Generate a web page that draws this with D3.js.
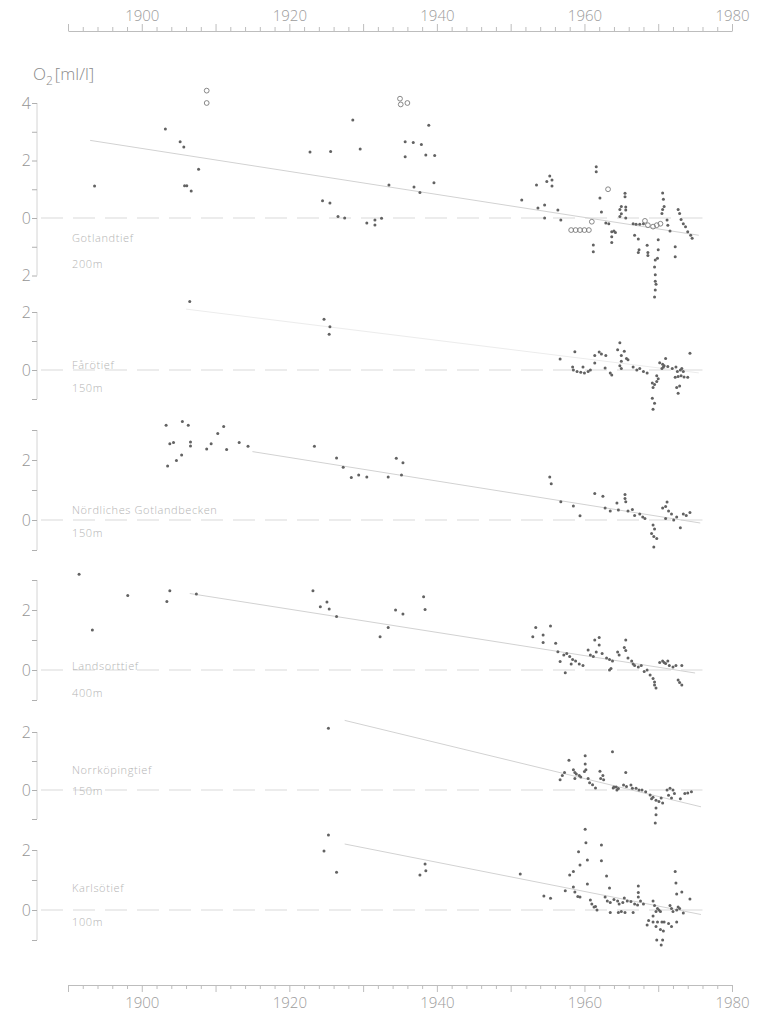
<!DOCTYPE html>
<html><head><meta charset="utf-8">
<script src="https://cdn.jsdelivr.net/npm/d3@7"></script>
<style>
html,body{margin:0;padding:0;background:#fff;}
svg{display:block;font-family:"Open Sans","DejaVu Sans",sans-serif;}
</style></head><body>
<svg id="c" width="757" height="1018"></svg>
<script>
// ---------- data ----------
const yearTicksLabelled = [1900, 1920, 1940, 1960, 1980];
const panelNames = ["Gotlandtief", "Fårötief", "Nördliches  Gotlandbecken", "Landsorttief", "Norrköpingtief", "Karlsötief"];
const panelDepths = ["200m", "150m", "150m", "400m", "150m", "100m"];
const yTicks1 = [-2, -1, 0, 1, 2, 3, 4];
const yLabels1 = {"4": "4", "2": "2", "0": "0", "-2": "2"};
const yTicks2 = [-1, 0, 1, 2];
const yTicks3 = [-1, 0, 1, 2, 3];
const yTicks4 = [-1, 0, 1, 2, 3];
const yTicks5 = [-1, 0, 1, 2];
const yTicks6 = [-1, 0, 1, 2];
const yLabelsStd = {"2": "2", "0": "0"};

// Gotlandtief 200m
const gotlandDots = [
 [1893.6,1.11],[1903.2,3.1],[1905.2,2.65],[1905.7,2.47],[1907.7,1.7],[1905.8,1.12],[1906.1,1.12],[1906.7,0.94],
 [1922.8,2.3],[1925.6,2.31],[1928.6,3.41],[1929.6,2.4],[1924.5,0.6],[1925.5,0.52],[1926.6,0.05],[1927.5,0.0],
 [1930.5,-0.17],[1931.6,-0.07],[1931.6,-0.24],[1932.5,-0.01],
 [1938.9,3.23],[1935.7,2.65],[1936.8,2.63],[1937.9,2.56],[1935.7,2.13],[1938.5,2.19],[1939.7,2.17],
 [1933.5,1.15],[1936.9,1.08],[1937.7,0.89],[1939.6,1.23],
 [1951.5,0.63],[1953.5,1.15],[1954.9,1.27],[1955.3,1.46],[1955.6,1.32],[1955.6,1.11],[1953.7,0.35],[1954.6,0.45],
 [1954.6,0.0],[1956.4,0.28],[1956.8,-0.07],
 [1961.6,1.78],[1961.6,1.61],[1962.1,0.7],[1962.3,0.21],[1961.2,-0.94],[1961.2,-1.17],
 [1962.9,-0.17],[1963.3,-0.2],[1963.7,-0.48],[1963.7,-0.65],[1963.7,-0.85],[1964.0,-0.45],[1964.2,-0.5],
 [1965.5,0.86],[1965.5,0.74],[1965.0,0.4],[1964.8,0.3],[1965.0,0.15],[1965.6,0.38],[1965.6,0.28],[1964.8,0.05],[1965.6,0.0],
 [1966.6,-0.2],[1967.0,-0.22],[1967.5,-0.22],[1968.0,-0.2],[1966.8,-0.6],
 [1967.3,-0.73],[1967.4,-1.1],[1967.3,-1.2],[1968.5,-0.95],[1968.6,-1.2],[1968.6,-1.3],[1970.0,-0.76],
 [1970.6,0.87],[1970.7,0.65],[1970.8,0.4],[1970.6,0.3],[1970.5,0.16],[1971.2,-0.07],[1971.3,-0.25],[1971.6,-0.45],
 [1969.6,-1.46],[1969.5,-1.7],[1969.6,-1.97],[1969.6,-2.2],[1969.7,-2.3],[1969.6,-2.5],[1969.5,-2.75],
 [1970.0,-1.1],[1969.9,-1.4],[1972.3,-1.0],[1972.3,-1.35],
 [1972.7,0.3],[1972.9,0.16],[1973.1,-0.05],[1973.4,-0.2],[1973.7,-0.3],[1974.0,-0.48],[1974.4,-0.6],[1974.6,-0.7]
];
const gotlandCircles = [
 [1908.8,4.43],[1908.8,4.0],[1935.0,4.15],[1935.1,3.95],[1936.0,4.0],
 [1958.2,-0.42],[1958.8,-0.42],[1959.4,-0.42],[1960.0,-0.42],[1960.6,-0.42],
 [1963.2,1.0],[1961.0,-0.13],
 [1968.2,-0.1],[1968.6,-0.25],[1969.3,-0.3],[1969.8,-0.25],[1970.3,-0.2]
];
const gotlandTrend = [[1893.0,2.7],[1975.5,-0.6]];

// Fårötief 150m
const faroDots = [
 [1906.5,2.36],[1924.7,1.75],[1925.5,1.49],[1925.4,1.23],
 [1956.7,0.38],[1958.7,0.63],[1958.4,0.1],[1958.5,0.0],[1959.0,-0.05],[1959.5,-0.08],[1960.0,-0.1],[1960.5,-0.05],[1960.8,0.0],[1959.8,0.1],
 [1961.4,0.5],[1962.0,0.62],[1962.3,0.55],[1962.9,0.5],[1961.4,0.24],[1962.8,0.07],[1963.7,-0.17],[1963.5,-0.1],
 [1964.8,0.94],[1964.5,0.7],[1965.4,0.65],[1965.0,0.5],[1965.7,0.4],[1965.9,0.35],[1965.0,0.3],[1964.8,0.15],[1965.0,0.05],
 [1966.6,0.1],[1967.1,0.0],[1967.5,0.05],[1968.0,-0.05],[1968.5,-0.1],
 [1969.2,-0.45],[1969.5,-0.5],[1969.3,-0.6],[1969.2,-0.97],[1969.5,-1.15],[1969.3,-1.35],
 [1970.2,0.25],[1970.6,0.2],[1970.8,0.15],[1971.0,0.4],[1970.5,0.05],[1970.7,0.1],[1971.3,0.12],
 [1969.8,-0.2],[1970.0,-0.3],[1969.8,-0.4],
 [1971.9,0.05],[1972.4,0.1],[1972.6,-0.05],[1973.0,0.0],[1973.2,0.05],[1973.4,-0.05],
 [1972.3,-0.25],[1972.7,-0.22],[1973.1,-0.2],[1973.5,-0.24],[1974.0,-0.25],
 [1972.5,-0.6],[1972.9,-0.55],[1972.7,-0.8],[1974.3,0.58]
];
const faroTrend = [[1906.0,2.1],[1975.5,-0.1]];

// Nördliches Gotlandbecken 150m
const nordDots = [
 [1903.3,3.16],[1905.5,3.28],[1906.3,3.16],[1903.8,2.54],[1904.3,2.58],[1906.6,2.6],[1906.6,2.47],
 [1908.8,2.37],[1909.4,2.54],[1910.3,2.88],[1911.1,3.12],[1911.5,2.35],[1913.2,2.58],[1914.4,2.46],
 [1903.5,1.8],[1904.7,1.98],[1905.4,2.17],
 [1923.4,2.46],[1926.4,2.07],[1927.3,1.76],[1928.4,1.42],[1929.4,1.5],[1930.5,1.43],
 [1934.5,2.06],[1935.4,1.91],[1933.4,1.43],[1935.2,1.5],
 [1955.3,1.43],[1955.5,1.21],[1956.8,0.61],[1958.5,0.47],[1959.4,0.14],[1961.4,0.88],[1962.5,0.79],
 [1965.5,0.85],[1965.5,0.72],[1965.6,0.61],[1964.4,0.57],
 [1962.8,0.4],[1963.5,0.3],[1964.6,0.33],[1965.9,0.3],[1966.5,0.35],
 [1966.8,0.15],[1967.5,0.2],[1967.9,0.1],[1968.2,0.05],
 [1969.3,-0.17],[1969.1,-0.45],[1969.5,-0.3],[1969.4,-0.55],[1969.8,-0.62],[1969.4,-0.9],
 [1970.6,0.4],[1971.0,0.45],[1971.2,0.6],[1971.4,0.3],[1971.8,0.2],[1972.5,0.1],[1973.0,-0.26],
 [1973.4,0.2],[1973.8,0.15],[1974.3,0.25],[1971.0,0.05],[1972.1,0.0]
];
const nordTrend = [[1915.0,2.28],[1975.7,-0.1]];

// Landsorttief 400m
const landDots = [
 [1891.5,3.19],[1893.3,1.33],[1898.1,2.48],[1903.8,2.64],[1903.4,2.28],[1907.4,2.53],
 [1923.2,2.64],[1924.2,2.11],[1925.1,2.27],[1925.4,2.03],[1926.4,1.78],
 [1932.3,1.11],[1933.4,1.42],[1934.4,2.0],[1935.4,1.87],[1938.2,2.44],[1938.4,2.02],
 [1953.4,1.42],[1955.4,1.47],[1953.0,1.11],[1954.4,1.17],[1954.4,0.92],
 [1956.1,0.89],[1956.4,0.61],[1956.7,0.28],[1957.4,-0.09],
 [1957.2,0.5],[1957.6,0.55],[1958.0,0.45],[1958.4,0.35],[1958.8,0.3],[1959.3,0.2],[1959.8,0.15],[1958.2,0.2],
 [1960.5,0.67],[1960.8,0.5],[1961.2,0.45],
 [1961.4,1.0],[1962.0,1.08],[1962.0,0.83],[1961.6,0.6],[1962.4,0.55],
 [1963.0,0.4],[1963.4,0.35],[1963.8,0.3],[1963.6,0.05],[1963.4,0.0],
 [1964.5,0.6],[1964.7,0.5],
 [1965.6,1.0],[1965.4,0.75],[1965.6,0.65],
 [1965.9,0.4],[1966.4,0.3],[1966.6,0.2],[1966.8,0.15],[1967.3,0.1],[1967.7,0.15],[1968.1,-0.05],[1968.5,0.0],
 [1968.9,-0.17],[1969.3,-0.28],[1969.5,-0.4],[1969.7,-0.6],[1969.5,-0.5],
 [1970.2,0.25],[1970.6,0.3],[1970.8,0.25],[1971.0,0.22],[1971.3,0.3],[1971.5,0.15],[1972.0,0.1],[1972.4,0.15],[1973.2,0.15],
 [1972.7,-0.33],[1972.9,-0.42],[1973.2,-0.5]
];
const landTrend = [[1906.5,2.55],[1975.0,-0.1]];

// Norrköpingtief 150m
const norrDots = [
 [1925.3,2.13],
 [1957.9,1.03],[1960.1,1.18],[1960.1,0.9],[1960.2,0.7],[1960.0,0.64],[1963.8,1.32],[1965.6,0.6],
 [1962.1,0.65],[1962.2,0.4],[1962.6,0.35],[1962.5,0.5],
 [1956.7,0.35],[1957.0,0.5],[1957.3,0.6],
 [1958.5,0.7],[1958.7,0.6],[1958.9,0.55],[1959.3,0.5],[1959.5,0.45],[1958.7,0.4],
 [1960.5,0.4],[1960.7,0.25],[1961.1,0.18],[1961.5,0.07],
 [1963.9,0.07],[1964.3,0.1],[1964.4,0.0],[1964.6,0.05],[1964.0,0.1],
 [1965.3,0.17],[1965.7,0.12],[1966.3,0.17],[1966.5,0.06],[1967.0,0.06],[1967.4,0.0],[1967.8,0.0],[1968.3,-0.06],
 [1968.9,-0.17],[1969.1,-0.3],[1969.3,-0.25],[1969.7,-0.35],[1970.1,-0.4],[1970.6,-0.45],[1970.4,-0.28],
 [1969.7,-0.62],[1969.7,-0.85],[1969.6,-1.14],
 [1971.2,0.0],[1971.6,0.06],[1972.0,0.0],[1972.2,-0.12],[1971.4,-0.18],[1971.8,-0.28],
 [1973.0,-0.3],[1973.6,-0.12],[1974.0,-0.1],[1974.5,-0.06]
];
const norrTrend = [[1927.5,2.4],[1975.8,-0.58]];

// Karlsötief 100m
const karlDots = [
 [1925.3,2.5],[1924.7,1.97],[1926.4,1.26],
 [1938.4,1.53],[1938.5,1.31],[1937.7,1.17],[1951.3,1.2],[1954.5,0.47],[1955.4,0.39],
 [1957.4,0.64],[1958.0,1.17],[1958.5,1.28],[1959.2,1.94],[1959.4,1.5],
 [1960.1,2.69],[1960.2,2.24],[1960.4,1.67],[1960.4,0.87],
 [1962.3,2.17],[1962.3,1.64],[1963.0,1.13],[1963.4,0.73],
 [1958.5,0.77],[1958.7,0.6],[1959.1,0.45],[1959.4,0.43],
 [1960.8,0.33],[1961.0,0.2],[1961.3,0.1],[1961.7,0.0],[1961.5,0.12],
 [1962.8,0.43],[1963.1,0.3],[1963.5,0.25],[1964.0,0.35],[1964.5,0.3],[1964.7,0.2],[1965.2,0.25],[1965.4,0.4],
 [1965.8,0.3],[1966.3,0.28],[1966.8,0.2],[1967.2,0.17],[1967.6,0.3],[1968.0,0.2],
 [1967.3,0.8],[1967.3,0.58],[1967.3,0.43],
 [1963.5,-0.08],[1964.6,-0.08],[1965.0,-0.05],[1965.5,-0.08],[1966.6,-0.08],
 [1969.3,0.3],[1969.5,0.15],[1969.9,0.05],[1970.1,0.0],[1969.7,-0.05],[1970.3,-0.05],[1969.3,-0.2],
 [1968.7,-0.35],[1968.5,-0.5],[1969.3,-0.4],[1969.9,-0.4],[1970.5,-0.4],[1970.8,-0.4],
 [1969.7,-0.55],[1970.3,-0.65],[1970.7,-0.7],[1971.4,-0.45],[1971.8,-0.55],[1972.5,-0.4],
 [1969.8,-1.0],[1970.6,-1.0],[1970.4,-1.17],
 [1972.3,1.28],[1972.4,0.9],[1972.5,0.53],[1972.7,0.1],[1972.9,0.05],[1973.2,0.6],[1974.3,0.37],
 [1971.6,0.15],[1971.8,0.05],[1972.0,-0.05],[1972.5,0.0],[1973.4,-0.1]
];
const karlTrend = [[1927.5,2.2],[1975.8,-0.15]];

// ---------- layout ----------
const svg = d3.select("#c");
const xs = d3.scaleLinear().domain([1890, 1980]).range([68, 732]);
const axisX = 37;
const dotCol = "#626262", lineCol = "#d2d2d2";

const panels = [
 {dots: gotlandDots, circles: gotlandCircles, trend: gotlandTrend, ticks: yTicks1, labels: yLabels1, zero: 218, unit: 28.75, nameY: 242, depthY: 268},
 {dots: faroDots, circles: [], trend: faroTrend, ticks: yTicks2, labels: yLabelsStd, zero: 370, unit: 29, nameY: 369, depthY: 392, faint: true},
 {dots: nordDots, circles: [], trend: nordTrend, ticks: yTicks3, labels: yLabelsStd, zero: 520, unit: 30, nameY: 514, depthY: 537},
 {dots: landDots, circles: [], trend: landTrend, ticks: yTicks4, labels: yLabelsStd, zero: 670, unit: 30, nameY: 670, depthY: 697},
 {dots: norrDots, circles: [], trend: norrTrend, ticks: yTicks5, labels: yLabelsStd, zero: 790, unit: 29, nameY: 774, depthY: 795},
 {dots: karlDots, circles: [], trend: karlTrend, ticks: yTicks6, labels: yLabelsStd, zero: 910, unit: 30, nameY: 892, depthY: 926}
];

const yl = svg.append("text").attr("x", 33).attr("y", 80).attr("fill", "#8a8a8a")
  .attr("font-size", 17).attr("font-weight", 300);
yl.append("tspan").text("O");
yl.append("tspan").attr("font-size", 12).attr("dy", 5).text("2");
yl.append("tspan").attr("dy", -5).attr("dx", 2).text("[ml/l]");

panels.forEach((p, i) => {
  const ys = d3.scaleLinear().domain([0, 1]).range([p.zero, p.zero - p.unit]);
  const g = svg.append("g");
  const axis = d3.axisLeft(ys).tickValues(p.ticks).tickSize(5)
    .tickFormat(d => p.labels[String(d)] || "");
  const ag = g.append("g").attr("transform", `translate(${axisX},0)`).call(axis);
  ag.select(".domain").attr("stroke", "#d4d4d4").attr("d",
    `M0,${ys(d3.max(p.ticks))}V${ys(d3.min(p.ticks))}`);
  ag.selectAll(".tick line").attr("stroke", "#b0b0b0");
  ag.selectAll(".tick text").attr("fill", "#959595").attr("font-size", 16).attr("font-weight", 300)
    .attr("font-family", "'Open Sans',sans-serif").attr("x", -6);
  g.append("line").attr("x1", axisX + 4).attr("x2", xs(1976)).attr("y1", ys(0)).attr("y2", ys(0))
    .attr("stroke", "#d9d9d9").attr("stroke-width", 1.1).attr("stroke-dasharray", "22,10");
  g.append("line").attr("x1", xs(p.trend[0][0])).attr("y1", ys(p.trend[0][1]))
    .attr("x2", xs(p.trend[1][0])).attr("y2", ys(p.trend[1][1]))
    .attr("stroke", p.faint ? "#ececec" : lineCol).attr("stroke-width", 1);
  g.append("text").attr("x", 72).attr("y", p.nameY).attr("fill", "#b4b4b4").attr("font-size", 11)
    .attr("font-weight", 300).attr("letter-spacing", 0.6).text(panelNames[i]);
  g.append("text").attr("x", 72).attr("y", p.depthY).attr("fill", "#b4b4b4").attr("font-size", 11)
    .attr("font-weight", 300).attr("letter-spacing", 0.6).text(panelDepths[i]);
  g.selectAll("circle.d").data(p.dots).join("circle").attr("class", "d")
    .attr("cx", d => xs(d[0])).attr("cy", d => ys(d[1])).attr("r", 1.5).attr("fill", dotCol);
  g.selectAll("circle.o").data(p.circles).join("circle").attr("class", "o")
    .attr("cx", d => xs(d[0])).attr("cy", d => ys(d[1])).attr("r", 2.4)
    .attr("fill", "none").attr("stroke", "#7a7a7a").attr("stroke-width", 0.9);
});

function styleX(sel) {
  sel.select(".domain").attr("stroke", "#bdbdbd");
  sel.selectAll(".tick line").attr("stroke", "#bdbdbd");
  sel.selectAll(".tick text").attr("fill", "#9c9c9c").attr("font-size", 15).attr("font-weight", 300)
    .attr("font-family", "'Open Sans',sans-serif");
}
const minorYears = d3.range(1890, 1981, 2);
const topAxis = svg.append("g").attr("transform", "translate(0,31)")
  .call(d3.axisTop(xs).tickValues(minorYears).tickSize(4).tickSizeOuter(0)
    .tickFormat(d => yearTicksLabelled.includes(d) ? d : ""));
styleX(topAxis);
topAxis.selectAll(".tick text").attr("y", -10);
topAxis.selectAll(".tick line").attr("y2", d => d % 10 === 0 ? -7 : -4);
const botAxis = svg.append("g").attr("transform", "translate(0,985)")
  .call(d3.axisBottom(xs).tickValues(minorYears).tickSize(4).tickSizeOuter(0)
    .tickFormat(d => yearTicksLabelled.includes(d) ? d : ""));
styleX(botAxis);
botAxis.selectAll(".tick text").attr("y", 12);
botAxis.selectAll(".tick line").attr("y2", d => d % 10 === 0 ? 7 : 4);
</script></body></html>
